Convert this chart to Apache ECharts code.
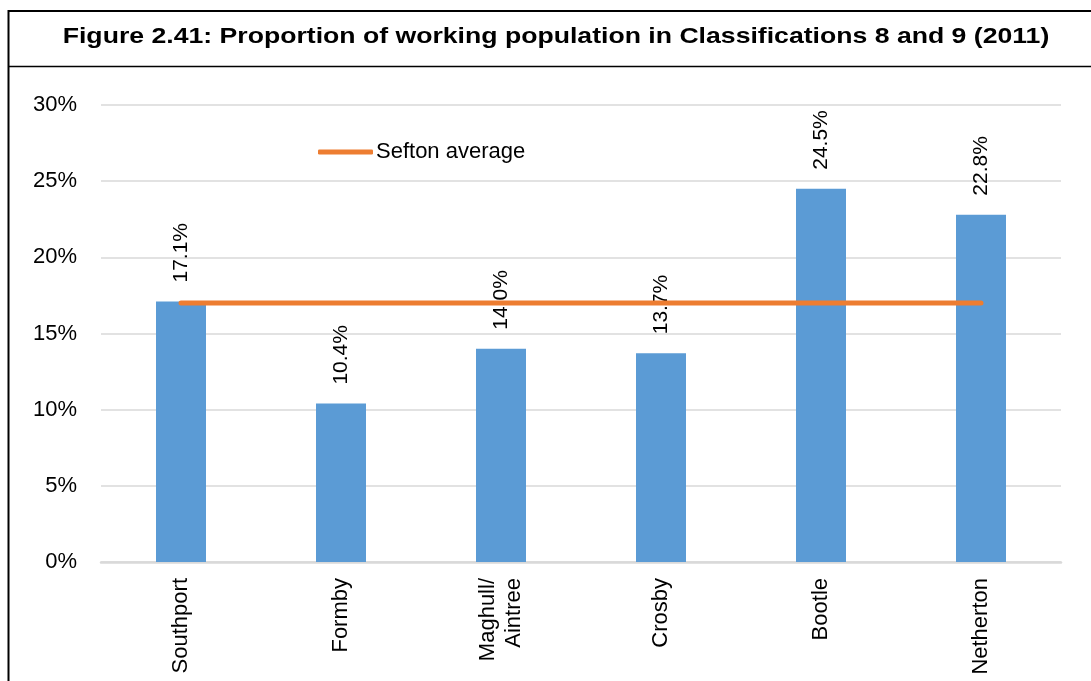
<!DOCTYPE html>
<html>
<head>
<meta charset="utf-8">
<script src="https://cdn.jsdelivr.net/npm/echarts@6/dist/echarts.min.js"></script>
<style>
html,body{margin:0;padding:0;background:#fff;}
#chart{width:1091px;height:681px;}
</style>
</head>
<body>
<div id="chart"></div>
<script>
var titleText = 'Figure 2.41: Proportion of working population in Classifications 8 and 9 (2011)';
var categories = ['Southport', 'Formby', 'Maghull/\nAintree', 'Crosby', 'Bootle', 'Netherton'];
var proportionValues = [17.1, 10.4, 14.0, 13.7, 24.5, 22.8];
var seftonAverage = [17.0, 17.0, 17.0, 17.0, 17.0, 17.0];
var yTicks = [0, 5, 10, 15, 20, 25, 30];

var FONT = '"Liberation Sans", Arial, sans-serif';

var chart = echarts.init(document.getElementById('chart'), null, {renderer: 'canvas'});
chart.setOption({
  animation: false,
  backgroundColor: '#ffffff',
  textStyle: {fontFamily: FONT},
  legend: {
    data: [{name: 'Sefton average', icon: 'roundRect'}],
    left: 318,
    top: 141,
    padding: 0,
    itemWidth: 55,
    itemHeight: 5,
    itemGap: 3,
    textStyle: {fontFamily: FONT, fontSize: 22, color: '#000', padding: [0, 0, 0, -2]}
  },
  grid: {left: 101, right: 30, top: 105, bottom: 119, containLabel: false, outerBoundsMode: 'none'},
  xAxis: {
    type: 'category',
    data: categories,
    axisLine: {show: true, lineStyle: {color: '#d9d9d9', width: 2.5}},
    axisTick: {show: false},
    axisLabel: {
      rotate: 90,
      margin: 16,
      interval: 0,
      fontFamily: FONT,
      fontSize: 22,
      lineHeight: 26,
      color: '#000'
    }
  },
  yAxis: {
    type: 'value',
    min: yTicks[0],
    max: yTicks[yTicks.length - 1],
    interval: yTicks[1] - yTicks[0],
    axisLine: {show: false},
    axisTick: {show: false},
    splitLine: {lineStyle: {color: '#d9d9d9', width: 1.5}},
    axisLabel: {
      margin: 24,
      fontFamily: FONT,
      fontSize: 22,
      color: '#000',
      formatter: '{value}%'
    }
  },
  series: [
    {
      name: 'Proportion',
      type: 'bar',
      data: proportionValues,
      barWidth: 50,
      itemStyle: {color: '#5B9BD5'},
      label: {
        show: true,
        position: 'top',
        rotate: 90,
        align: 'left',
        verticalAlign: 'middle',
        distance: 19,
        fontFamily: FONT,
        fontSize: 21,
        color: '#000',
        formatter: function (p) { return p.value.toFixed(1) + '%'; }
      },
      z: 2
    },
    {
      name: 'Sefton average',
      type: 'line',
      data: seftonAverage,
      symbol: 'none',
      lineStyle: {color: '#ED7D31', width: 5, cap: 'round'},
      itemStyle: {color: '#ED7D31'},
      z: 3
    }
  ],
  graphic: [
    {type: 'line', shape: {x1: 8.5, y1: 10, x2: 8.5, y2: 681}, style: {stroke: '#000', lineWidth: 2}},
    {type: 'line', shape: {x1: 8, y1: 11, x2: 1091, y2: 11}, style: {stroke: '#000', lineWidth: 2}},
    {type: 'line', shape: {x1: 8, y1: 66.5, x2: 1091, y2: 66.5}, style: {stroke: '#000', lineWidth: 1.5}},
    {
      type: 'text',
      x: 556,
      y: 37,
      scaleX: 1.21,
      style: {
        text: titleText,
        font: 'bold 22px "Liberation Sans", Arial, sans-serif',
        fill: '#000',
        align: 'center',
        verticalAlign: 'middle'
      }
    }
  ]
});
</script>
</body>
</html>
